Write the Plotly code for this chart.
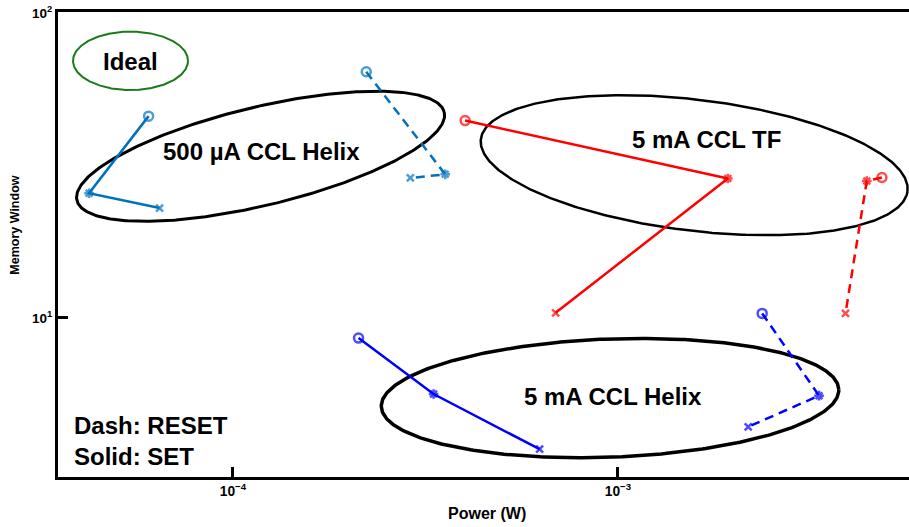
import numpy as np
import plotly.graph_objects as go

# ---- data (Power in W, Memory Window) ----
helix500_set_x = [6.04e-5, 4.23e-5, 6.45e-5]
helix500_set_y = [45.6, 25.5, 22.8]
helix500_reset_x = [2.22e-4, 3.56e-4, 2.89e-4]
helix500_reset_y = [63.7, 29.4, 28.6]

tf5_set_x = [4.01e-4, 1.93e-3, 6.89e-4]
tf5_set_y = [44.1, 28.5, 10.35]
tf5_reset_x = [4.85e-3, 4.43e-3, 3.90e-3]
tf5_reset_y = [28.7, 27.96, 10.3]

helix5_set_x = [2.12e-4, 3.32e-4, 6.26e-4]
helix5_set_y = [8.55, 5.61, 3.70]
helix5_reset_x = [2.37e-3, 3.33e-3, 2.18e-3]
helix5_reset_y = [10.3, 5.54, 4.38]

y_tickvals = [10, 100]
y_ticktext = ["10<sup>1</sup>", "10<sup>2</sup>"]

# group ellipses: label, centre (W, MW), semi-axes (px), angle (deg), colour
ellipse_labels = ["Ideal", "500 µA CCL Helix", "5 mA CCL TF", "5 mA CCL Helix"]
ellipse_cx = [5.42e-5, 1.18e-4, 1.578e-3, 9.54e-4]
ellipse_cy = [69.2, 33.7, 31.5, 5.44]
ellipse_a = [57.5, 188.9, 214.9, 228.9]
ellipse_b = [29.2, 49.2, 65.5, 59.1]
ellipse_ang = [0.0, 13.5, -6.96, 2.15]
ellipse_col = ["#1a7a1a", "black", "black", "black"]
ellipse_lw = [2, 3, 2.5, 3.5]
label_x = [5.43e-5, 1.187e-4, 1.70e-3, 9.69e-4]
label_y = [68.6, 34.8, 38.1, 5.52]

# ---- layout geometry ----
W, H = 909, 527
ML, MR, MT, MB = 58, 0, 12, 50
xr = [np.log10(3.513e-5), None]
px_per_dec_x = 385.0
plot_w = W - ML - MR
plot_h = H - MT - MB
xr[1] = xr[0] + plot_w / px_per_dec_x
yr = [np.log10(3.0), 2.0]
px_per_dec_y = plot_h / (yr[1] - yr[0])

fig = go.Figure()

# ellipses
t = np.linspace(0, 2 * np.pi, 400)
for cx, cy, a, b, ang, col, lw in zip(ellipse_cx, ellipse_cy, ellipse_a, ellipse_b,
                                      ellipse_ang, ellipse_col, ellipse_lw):
    th = np.deg2rad(ang)
    dx = a * np.cos(t) * np.cos(th) - b * np.sin(t) * np.sin(th)
    dy = a * np.cos(t) * np.sin(th) + b * np.sin(t) * np.cos(th)
    ex = 10 ** (np.log10(cx) + dx / px_per_dec_x)
    ey = 10 ** (np.log10(cy) + dy / px_per_dec_y)
    fig.add_trace(go.Scatter(x=ex, y=ey, mode="lines",
                             line=dict(color=col, width=lw),
                             hoverinfo="skip", showlegend=False))

symbols = ["circle-open", "asterisk-open", "x-thin-open"]
series = [
    (helix500_set_x, helix500_set_y, "#0072BD", "solid"),
    (helix500_reset_x, helix500_reset_y, "#0072BD", "9px,6px"),
    (tf5_set_x, tf5_set_y, "#FF0000", "solid"),
    (tf5_reset_x, tf5_reset_y, "#FF0000", "9px,6px"),
    (helix5_set_x, helix5_set_y, "#0000FF", "solid"),
    (helix5_reset_x, helix5_reset_y, "#0000FF", "9px,6px"),
]
for xs, ys, col, dash in series:
    fig.add_trace(go.Scatter(
        x=xs, y=ys, mode="lines+markers",
        line=dict(color=col, width=2.5, dash=dash),
        marker=dict(symbol=symbols, size=[9, 8, 7], color=col,
                    line=dict(color=col, width=2.5)),
        showlegend=False))

bold = dict(color="black", weight="bold")
annotations = []
for lab, lx, ly in zip(ellipse_labels, label_x, label_y):
    annotations.append(dict(x=np.log10(lx), y=np.log10(ly), xref="x", yref="y",
                            text=lab, showarrow=False, font=dict(size=24, **bold)))
annotations.append(dict(x=(72 - ML) / plot_w, y=(477.3 - 440.9) / plot_h,
                        xref="paper", yref="paper", xanchor="left", yanchor="middle",
                        align="left", text="Dash: RESET<br>Solid: SET",
                        showarrow=False, font=dict(size=24, **bold)))
# y tick labels
for tv, tt in zip(y_tickvals, y_ticktext):
    annotations.append(dict(x=0, y=np.log10(tv), xref="paper", yref="y",
                            xanchor="right", yanchor="middle", xshift=-4,
                            text=tt, showarrow=False, font=dict(size=13.5, **bold)))
# axis titles
annotations.append(dict(x=(486.7 - ML) / plot_w, y=(477.3 - 514) / plot_h,
                        xref="paper", yref="paper", xanchor="center", yanchor="middle",
                        text="Power (W)", showarrow=False, font=dict(size=16, **bold)))
annotations.append(dict(x=(15.5 - ML) / plot_w, y=(477.3 - 225.5) / plot_h,
                        xref="paper", yref="paper", xanchor="center", yanchor="middle",
                        textangle=-90, text="Memory Window", showarrow=False,
                        font=dict(size=12.5, **bold)))

axis_common = dict(showgrid=False, zeroline=False, showline=True, linecolor="black",
                   linewidth=3, ticks="inside", ticklen=10, tickwidth=3,
                   tickcolor="black", automargin=False)
fig.update_layout(
    width=W, height=H,
    margin=dict(l=ML, r=MR, t=MT, b=MB, autoexpand=False),
    paper_bgcolor="white", plot_bgcolor="white",
    font=dict(family="Liberation Sans, Arial, sans-serif", color="black"),
    xaxis=dict(type="log", range=xr, mirror=True,
               tickmode="linear", tick0=0, dtick=1,
               exponentformat="power", showexponent="all",
               tickfont=dict(size=11, **bold),
               **axis_common),
    yaxis=dict(type="log", range=yr, mirror=False,
               tickmode="array", tickvals=y_tickvals, showticklabels=False,
               **axis_common),
    annotations=annotations,
)

fig.write_html("out.html", config={"displayModeBar": False},
               post_script="document.body.style.margin='0';"
                           "document.body.style.overflow='hidden';")
